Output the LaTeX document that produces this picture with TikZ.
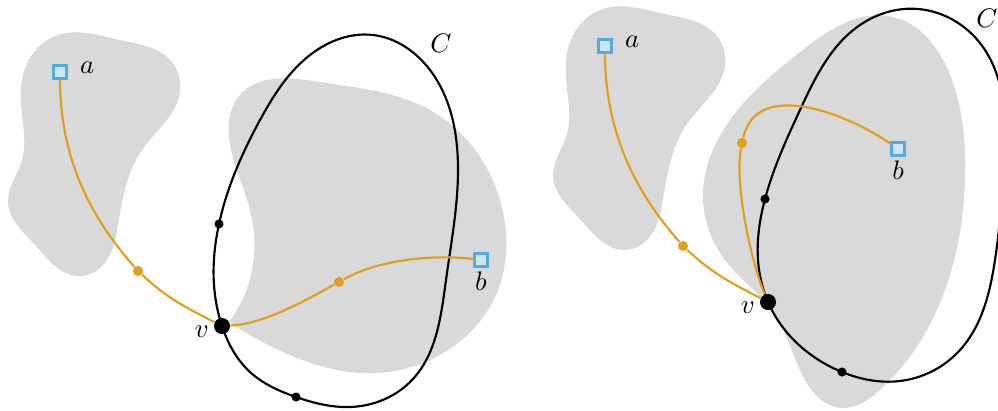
\documentclass[tikz,border=0pt]{standalone}
\usepackage{xcolor}
\usepackage{tikz}
\usetikzlibrary{positioning,hobby}

\definecolor{regiongray}{RGB}{217,217,217}
\definecolor{walkorange}{RGB}{222,160,30}
\definecolor{termblue}{RGB}{80,170,228}
\definecolor{termfill}{RGB}{206,231,248}

\begin{document}
\begin{tikzpicture}[x=0.0131cm, y=-0.0131cm, use Hobby shortcut,
    region/.style={fill=regiongray, draw=none},
    cyc/.style={draw=black, line width=0.8pt},
    walk/.style={draw=walkorange, line width=0.8pt},
    terminal/.style={rectangle, draw=termblue, fill=termfill, line width=0.9pt, minimum size=4.8pt, inner sep=0pt},
    vertex/.style={circle, fill=black, minimum size=6pt, inner sep=0pt},
    cdot/.style={circle, fill=black, minimum size=3.4pt, inner sep=0pt},
    wdot/.style={circle, fill=walkorange, minimum size=3.8pt, inner sep=0pt},
    lbl/.style={inner sep=1pt}
]
\useasboundingbox (0,0) rectangle (998,410);

% Key points
\coordinate (vL) at (222,326);
\coordinate (cL1) at (219,224);
\coordinate (cL2) at (296,397);
\coordinate (vR) at (768,302);
\coordinate (cR1) at (765,199);
\coordinate (cR2) at (842,372);

% Regions, left
\fill[region, closed=true] (23,75) .. (55,36) .. (120,40) .. (172,62) .. (180,92) .. (142,150) .. (118,225) .. (100,268) .. (78,276) .. (35,245) .. (8,202) .. (22,160) .. (22,115);
\fill[region] (229,322) .. (252,270) .. (250,210) .. (230,145) .. (240,95) .. (320,82) .. (430,110) .. (500,200) .. (498,290) .. (440,355) .. (360,373) .. (290,355) .. (229,322) -- cycle;

% Regions, right
\begin{scope}[shift={(545,-26)}]
\fill[region, closed=true] (23,75) .. (55,36) .. (120,40) .. (172,62) .. (180,92) .. (142,150) .. (118,225) .. (100,268) .. (78,276) .. (35,245) .. (8,202) .. (22,160) .. (22,115);
\end{scope}
\fill[region, closed=true] (893,17) .. (952,80) .. (965,180) .. (945,290) .. (880,390) .. (840,408) .. (805,380) .. (775,315) .. (725,260) .. (703,193) .. (730,120) .. (800,52);

% Cycles
\draw[cyc, closed=true] (vL) .. (250,372) .. (cL2) .. (350,407) .. (412,380) .. (446,280) .. (458,170) .. (430,70) .. (373,35) .. (310,55) .. (260,120) .. (cL1) .. (214,285);
\draw[cyc, closed=true] (vR) .. (cR2) .. (900,381) .. (960,350) .. (995,260) .. (1004,160) .. (985,50) .. (918,9) .. (860,25) .. (800,110) .. (cR1) .. (758,260);

% Left panel nodes
\node[terminal] (a1) at (60,72) {};
\node[terminal] (b1) at (481,260) {};
\node[vertex] (v1) at (vL) {};
\node[cdot] (p1) at (cL1) {};
\node[cdot] (q1) at (cL2) {};
\node[wdot] (m1) at (138,271) {};
\node[wdot] (n1) at (339,282) {};

% Right panel nodes
\node[terminal] (a2) at (605,46) {};
\node[terminal] (b2) at (898,149) {};
\node[vertex] (v2) at (vR) {};
\node[cdot] (p2) at (cR1) {};
\node[cdot] (q2) at (cR2) {};
\node[wdot] (m2) at (683,246) {};
\node[wdot] (n2) at (742,143) {};

% Walks
\draw[walk] (a1) .. controls +(0,100) and +(-35,-40) .. (m1) .. controls +(30,28) and +(-35,-18) .. (v1);
\draw[walk] (v1) .. controls +(40,-2) and +(-40,22) .. (n1) .. controls +(45,-25) and +(-40,-5) .. (b1);
\draw[walk] (a2) .. controls +(0,100) and +(-35,-40) .. (m2) .. controls +(30,28) and +(-35,-18) .. (v2);
\draw[walk] (v2) .. controls +(-15,-35) and +(-8,45) .. (n2) .. controls +(15,-65) and +(-50,-35) .. (b2);

% Labels
\node[lbl, right=3.5pt of a1, yshift=1.5pt] (la1) {$a$};
\node[lbl, below=0.5pt of b1] (lb1) {$b$};
\node[lbl, left=0.5pt of v1, yshift=-2pt] (lv1) {$v$};
\node[lbl] (lC1) at (441,43) {$C$};
\node[lbl, right=3.5pt of a2, yshift=1.5pt] (la2) {$a$};
\node[lbl, below=0.5pt of b2] (lb2) {$b$};
\node[lbl, left=0.5pt of v2, yshift=-2pt] (lv2) {$v$};
\node[lbl] (lC2) at (987,18) {$C$};

\end{tikzpicture}
\end{document}
